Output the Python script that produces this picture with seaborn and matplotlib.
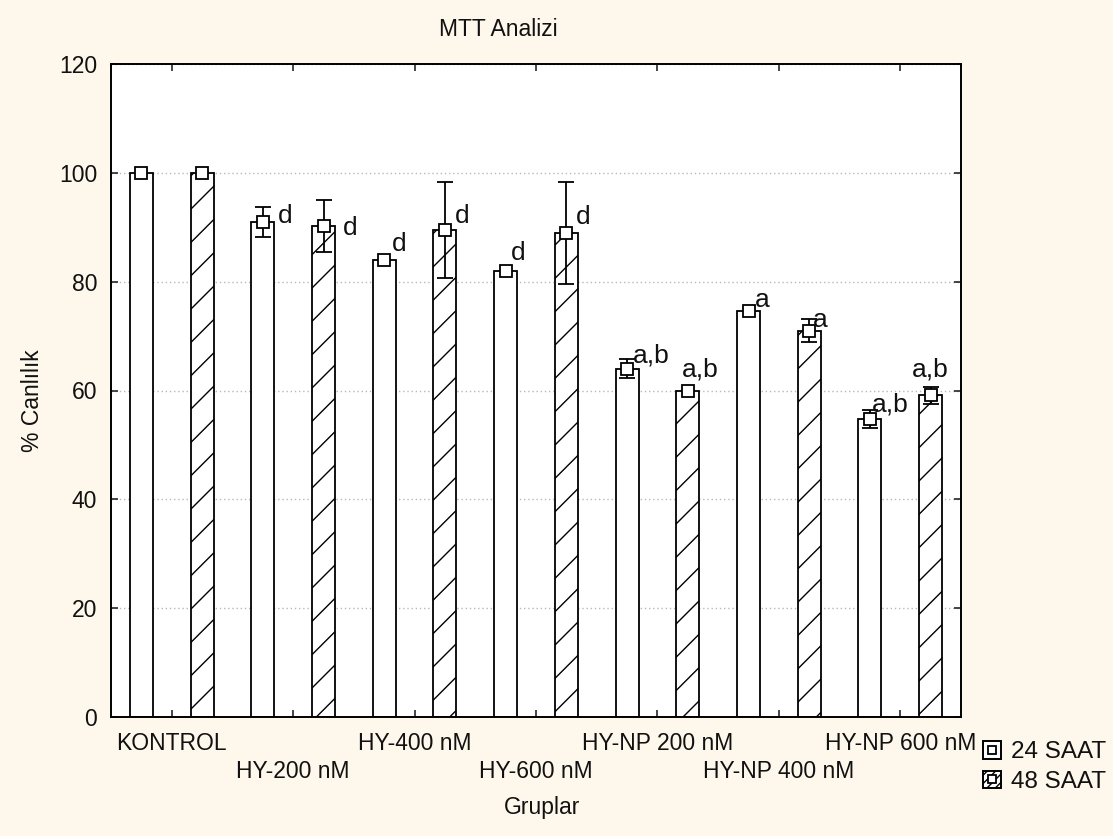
import matplotlib
matplotlib.use("Agg")
import matplotlib.pyplot as plt
import seaborn as sns
import pandas as pd
import numpy as np
from matplotlib.patches import Patch
from matplotlib.lines import Line2D
from matplotlib.legend_handler import HandlerTuple

# ---- data ----
groups = ["KONTROL", "HY-200 nM", "HY-400 nM", "HY-600 nM",
          "HY-NP 200 nM", "HY-NP 400 nM", "HY-NP 600 nM"]
series = ["24 SAAT", "48 SAAT"]
vals_24 = [100.0, 91.0, 84.0, 82.0, 64.0, 74.6, 54.8]
vals_48 = [100.0, 90.2, 89.5, 89.0, 60.0, 71.0, 59.1]
err_24 = [0.0, 2.8, 0.0, 0.0, 1.7, 0.0, 1.6]
err_48 = [0.0, 4.8, 8.8, 9.4, 0.0, 2.1, 1.6]
notes_24 = ["", "d", "d", "d", "a,b", "a", "a,b"]
notes_48 = ["", "d", "d", "d", "a,b", "a", "a,b"]
yticks = [0, 20, 40, 60, 80, 100, 120]

# ---- style (offsets in pixels for annotations) ----
off_24 = [(0, 0), (22, 6), (15, 16), (13, 18), (24, 13), (14, 11), (20, 14)]
off_48 = [(0, 0), (27, -2), (17, 14), (17, 16), (12, 21), (11, 11), (0, 26)]

df = pd.DataFrame({
    "grup": groups * 2,
    "saat": [series[0]] * len(groups) + [series[1]] * len(groups),
    "val": vals_24 + vals_48,
})

sns.set_style("white")
plt.rcParams["font.family"] = ["Liberation Sans", "DejaVu Sans"]
plt.rcParams["hatch.linewidth"] = 1.0
TXT = "#111111"
FS = 16.5

fig = plt.figure(figsize=(11.13, 8.36), dpi=100, facecolor="#FEF8EC")
ax = fig.add_axes([111 / 1113, 1 - 717 / 836, 850 / 1113, 653 / 836])
ax.set_facecolor("white")

sns.barplot(data=df, x="grup", y="val", hue="saat", order=groups,
            hue_order=series, width=1.0, gap=0.62,
            palette=["white", "white"], saturation=1,
            edgecolor="black", linewidth=1.3, legend=False, ax=ax,
            errorbar=None, zorder=2)

for p in ax.containers[1]:
    p.set_hatch("/")

ax.set_xlim(-0.5, len(groups) - 0.5)
ax.set_ylim(0, 120)
ax.set_yticks(yticks)
ax.set_yticklabels([str(v) for v in yticks])
ax.yaxis.grid(True, linestyle=(0, (1, 2)), color="#b8b8b8", linewidth=1.0)
ax.set_axisbelow(True)

for s in ax.spines.values():
    s.set_visible(True)
    s.set_color("black")
    s.set_linewidth(1.4)

ax.tick_params(axis="both", direction="in", length=5, width=1.2,
               top=True, right=True, bottom=True, left=True,
               labelsize=FS, labelcolor=TXT)
ax.tick_params(axis="y", pad=10)
ax.set_xticks(range(len(groups)))
ax.set_xticklabels(groups)
for i, t in enumerate(ax.xaxis.get_major_ticks()):
    t.set_pad(11 if i % 2 == 0 else 31)

ax.set_xlabel("Gruplar", fontsize=FS, color=TXT)
ax.xaxis.set_label_coords(0.507, -0.139)
ax.xaxis.label.set_va("center")
ax.set_ylabel("% Canlılık", fontsize=FS, color=TXT)
ax.yaxis.set_label_coords(-0.092, 0.485)
ax.yaxis.label.set_va("center")

fig.text(498 / 1113, 1 - 30 / 836, "MTT Analizi", ha="center", va="center",
         fontsize=FS, color=TXT)

# markers, error bars and letters from the bar geometry
for cont, vals, errs, notes, offs in [
        (ax.containers[0], vals_24, err_24, notes_24, off_24),
        (ax.containers[1], vals_48, err_48, notes_48, off_48)]:
    xs = [p.get_x() + p.get_width() / 2 for p in cont]
    for x, v, e, n, (dx, dy) in zip(xs, vals, errs, notes, offs):
        if e > 0:
            ax.errorbar([x], [v], yerr=[e], fmt="none", ecolor="black",
                        elinewidth=1.3, capsize=6, capthick=1.3, zorder=3)
        ax.plot([x], [v], marker="s", ms=8, mfc="white", mec="black",
                mew=1.3, ls="", zorder=4)
        if n:
            ax.annotate(n, xy=(x, v), xytext=(dx * 0.72, dy * 0.72),
                        textcoords="offset points", ha="center", va="center",
                        fontsize=19, color=TXT, zorder=5)

# legend
h24 = (Patch(facecolor="white", edgecolor="black", linewidth=1.4),
       Line2D([], [], marker="s", ms=5.5, mfc="white", mec="black", mew=1.3, ls=""))
h48 = (Patch(facecolor="white", edgecolor="black", linewidth=1.4, hatch="////"),
       Line2D([], [], marker="s", ms=5.5, mfc="white", mec="black", mew=1.3, ls=""))
leg = fig.legend([h24, h48], series, handler_map={tuple: HandlerTuple(ndivide=1)},
                 loc="upper left", bbox_to_anchor=(983 / 1113, 1 - 741 / 836),
                 frameon=False, fontsize=17.5, handlelength=0.75, handleheight=0.75,
                 handletextpad=0.4, labelspacing=0.3, borderpad=0.0,
                 borderaxespad=0.0)
for t in leg.get_texts():
    t.set_color(TXT)

fig.savefig("out.png", dpi=100, facecolor=fig.get_facecolor())
